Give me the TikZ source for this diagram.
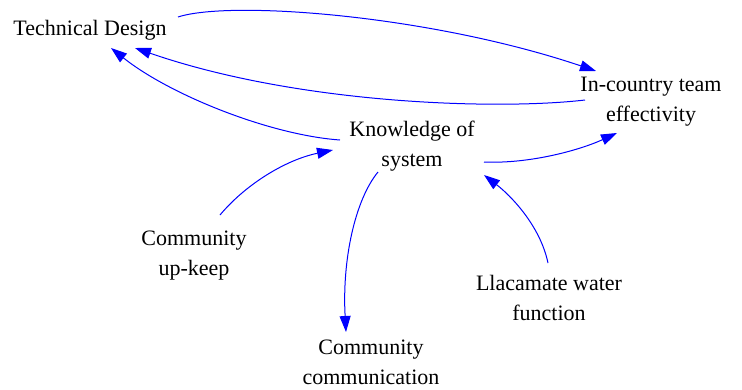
\documentclass[tikz,border=0pt]{standalone}
\usepackage{fontspec}
\setmainfont{LiberationSerif}[Extension=.ttf,UprightFont=*-Regular,BoldFont=*-Bold]
\usetikzlibrary{calc,arrows.meta}
\begin{document}
\begin{tikzpicture}[x=1pt,y=-1pt,
  lbl/.style={align=center,inner sep=0pt,font=\rmfamily\fontsize{22}{30}\selectfont},
  link/.style={draw={rgb,255:red,0;green,0;blue,255},line width=1pt,
    -{Triangle[length=16pt,width=11pt]}}]
\useasboundingbox (0,0) rectangle (742,389);
\node[lbl] (td) at (90,30) {Technical Design};
\node[lbl] (ic) at (651,102) {In-country team\\effectivity};
\node[lbl] (ks) at (412,146) {Knowledge of\\system};
\node[lbl] (cu) at (194,256) {Community\\up-keep};
\node[lbl] (cc) at (371,362) {Community\\communication};
\node[lbl] (lw) at (549,298) {Llacamate water\\function};
\draw[link] ($(td)+(88,-13)$) .. controls (230,0) and (430,15) .. ($(ic)+(-55,-31)$);
\draw[link] ($(ic)+(-66,-2)$) .. controls (500,110) and (300,105) .. ($(td)+(45,18)$);
\draw[link] ($(ks)+(-72,-6)$) .. controls (270,135) and (170,95) .. ($(td)+(21,18)$);
\draw[link] ($(cu)+(26,-41)$) .. controls (245,185) and (285,160) .. ($(ks)+(-79,4)$);
\draw[link] ($(ks)+(-34,26)$) .. controls (355,200) and (342,260) .. ($(cc)+(-25,-30)$);
\draw[link] ($(ks)+(72,16)$) .. controls (530,164) and (580,150) .. ($(ic)+(-34,31)$);
\draw[link] ($(lw)+(-1,-35)$) .. controls (540,225) and (510,195) .. ($(ks)+(72,29)$);
\end{tikzpicture}
\end{document}
